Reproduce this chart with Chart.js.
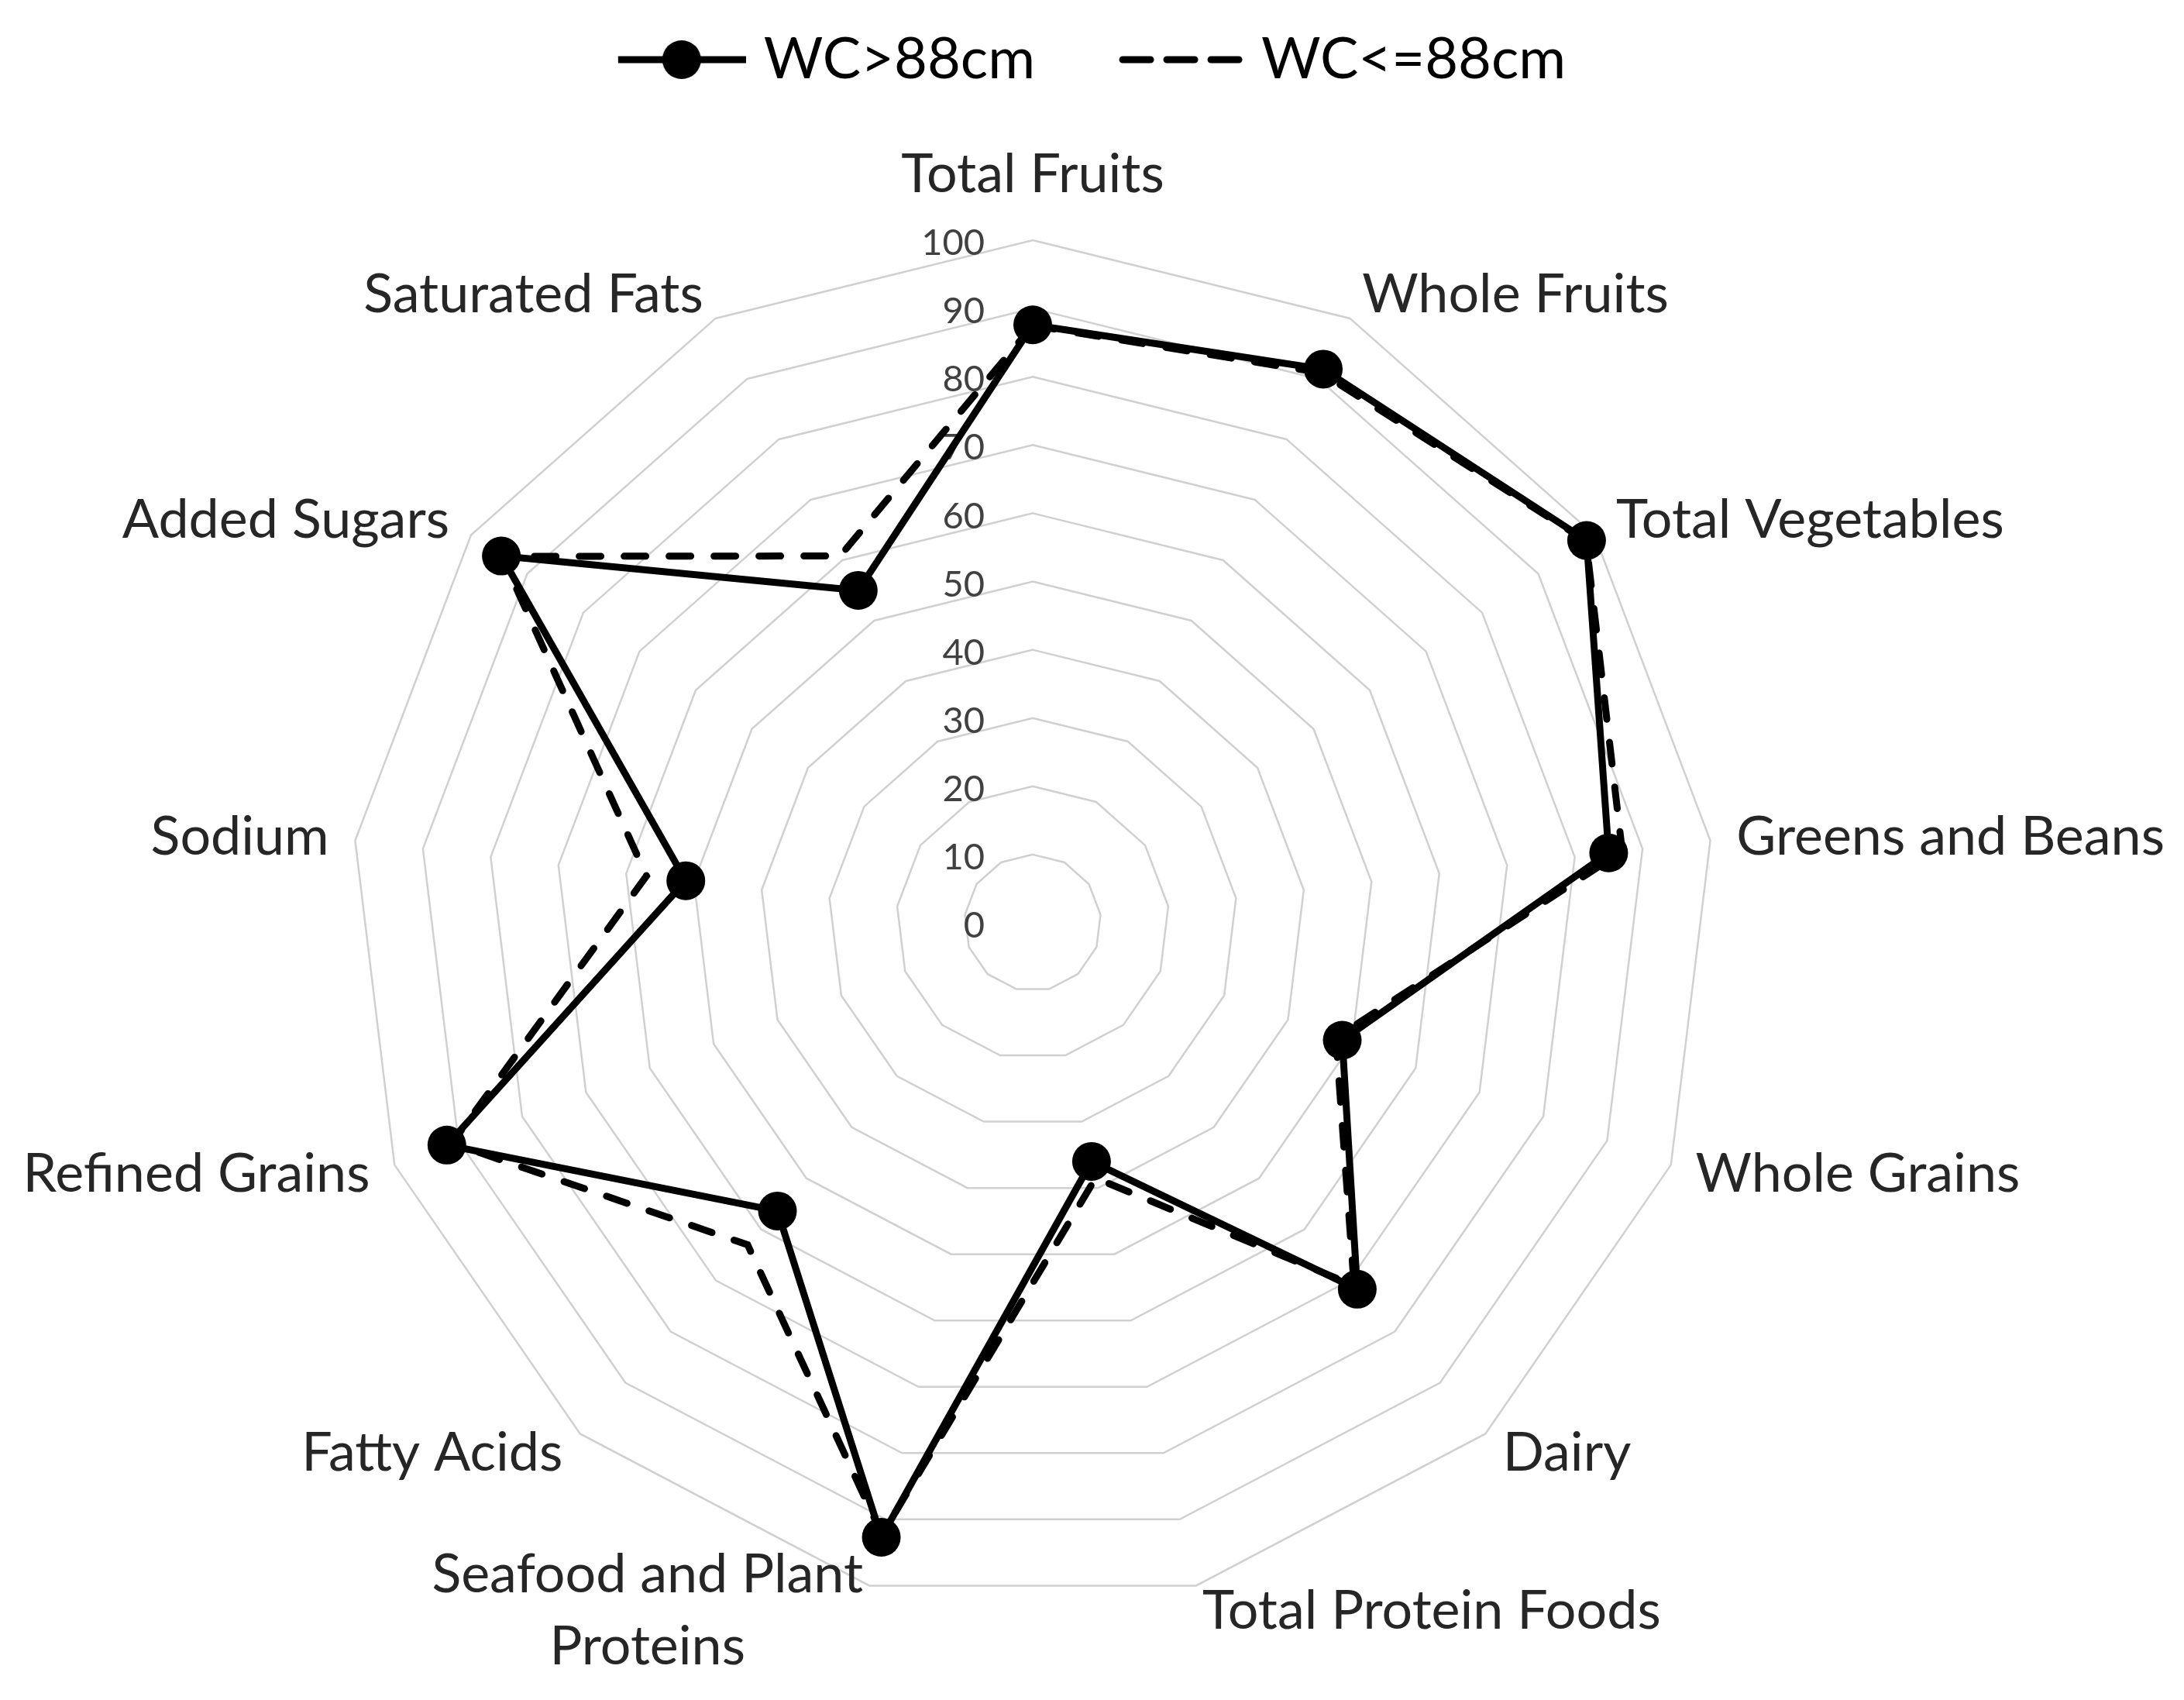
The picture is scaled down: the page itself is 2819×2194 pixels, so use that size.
<!DOCTYPE html>
<html>
<head>
<meta charset="utf-8">
<script src="https://cdn.jsdelivr.net/npm/chart.js@4.4.1/dist/chart.umd.min.js"></script>
<style>
  html, body { margin: 0; padding: 0; background: #fff; }
  #wrap { width: 2819px; height: 2194px; }
</style>
</head>
<body>
<div id="wrap"><canvas id="radarChart" width="2819" height="2194"></canvas></div>
<script>
// categories, clockwise from the top
const categories = [
  'Total Fruits', 'Whole Fruits', 'Total Vegetables', 'Greens and Beans',
  'Whole Grains', 'Dairy', 'Total Protein Foods', ['Seafood and Plant', 'Proteins'],
  'Fatty Acids', 'Refined Grains', 'Sodium', 'Added Sugars', 'Saturated Fats'
];
const wcOver88 = [87.6, 91.6, 98.6, 85.0, 48.5, 71.7, 36.0, 92.7, 56.4, 91.8, 51.2, 94.6, 55.0];
const wcUnder88 = [87.5, 91.0, 98.5, 87.0, 47.5, 71.0, 38.5, 92.3, 63.0, 91.0, 57.0, 94.5, 60.7];
const tickValues = [0, 10, 20, 30, 40, 50, 60, 70, 80, 90, 100];

const FONT = 'Lato, "Open Sans", sans-serif';

// legend symbols: a line with a marker, and a dashed line
// (canvas is a bit wider than the legend box so the symbol sits closer to its text)
function makeSymbol(dashed) {
  const c = document.createElement('canvas');
  c.width = 179; c.height = 60;
  const g = c.getContext('2d');
  g.strokeStyle = '#000';
  g.fillStyle = '#000';
  g.lineWidth = 9;
  if (dashed) {
    g.lineCap = 'round';
    g.setLineDash([36, 21]);
    g.beginPath(); g.moveTo(23, 30); g.lineTo(178, 30); g.stroke();
  } else {
    g.beginPath(); g.moveTo(14, 30); g.lineTo(179, 30); g.stroke();
    g.beginPath(); g.arc(96, 30, 25, 0, Math.PI * 2); g.fill();
  }
  return c;
}
const legendSymbols = [makeSymbol(false), makeSymbol(true)];

// tick numbers sit left of the vertical axis, under the lines
const tickLabelPlugin = {
  id: 'tickLabels',
  beforeDatasetsDraw(chart) {
    const scale = chart.scales.r;
    const ctx = chart.ctx;
    ctx.save();
    ctx.font = '47px ' + FONT;
    ctx.fillStyle = '#404040';
    ctx.textAlign = 'right';
    ctx.textBaseline = 'middle';
    tickValues.forEach(v => {
      const d = scale.getDistanceFromCenterForValue(v);
      ctx.fillText(String(v), scale.xCenter - 62, scale.yCenter - d + 4);
    });
    ctx.restore();
  }
};

// category labels placed just outside the outer ring, like the spreadsheet chart
const categoryLabelPlugin = {
  id: 'categoryLabels',
  afterDraw(chart) {
    const scale = chart.scales.r;
    const ctx = chart.ctx;
    const n = chart.data.labels.length;
    const lineH = 93;
    ctx.save();
    ctx.font = '70px ' + FONT;
    ctx.fillStyle = '#262626';
    ctx.textBaseline = 'middle';
    chart.data.labels.forEach((lbl, i) => {
      const lines = Array.isArray(lbl) ? lbl : [lbl];
      const deg = i * 360 / n;
      if (i === 0) {
        const v = scale.getPointPosition(i, scale.drawingArea);
        ctx.textAlign = 'center';
        ctx.fillText(lines[0], v.x, v.y - 85);
        return;
      }
      const p = scale.getPointPosition(i, scale.drawingArea + 34);
      const blockW = Math.max(...lines.map(t => ctx.measureText(t).width));
      const right = deg > 180;
      const cx = right ? p.x - blockW / 2 : p.x + blockW / 2;
      const y0 = p.y - (lines.length - 1) * lineH / 2;
      ctx.textAlign = 'center';
      lines.forEach((t, k) => ctx.fillText(t, cx, y0 + k * lineH));
    });
    ctx.restore();
  }
};

new Chart(document.getElementById('radarChart'), {
  type: 'radar',
  data: {
    labels: categories,
    datasets: [
      {
        label: 'WC>88cm',
        data: wcOver88,
        borderColor: '#000',
        borderWidth: 9,
        pointRadius: 25,
        pointBackgroundColor: '#000',
        pointBorderColor: '#000',
        pointBorderWidth: 0,
        fill: false,
        clip: false
      },
      {
        label: 'WC<=88cm',
        data: wcUnder88,
        borderColor: '#000',
        borderWidth: 9,
        borderDash: [28, 30],
        borderCapStyle: 'round',
        pointRadius: 0,
        fill: false,
        clip: false
      }
    ]
  },
  options: {
    responsive: false,
    animation: false,
    layout: { padding: { left: 0, right: 0, top: -64, bottom: 0 } },
    plugins: {
      tooltip: { enabled: false },
      legend: {
        position: 'top',
        labels: {
          usePointStyle: true,
          pointStyleWidth: 151,
          padding: 104,
          color: '#000',
          font: { family: FONT, size: 74 },
          generateLabels(chart) {
            const items = Chart.defaults.plugins.legend.labels.generateLabels(chart);
            items.forEach((it, i) => { it.pointStyle = legendSymbols[i]; });
            return items;
          }
        }
      }
    },
    scales: {
      r: {
        min: 0,
        max: 100,
        ticks: { display: false, stepSize: 10 },
        angleLines: { display: false },
        grid: { color: '#d0d0d0', lineWidth: 2.5, circular: false },
        pointLabels: { display: false },
        afterFit(scale) {
          // plot centre and radius taken from the reference layout
          scale.xCenter = 1333;
          scale.yCenter = 1191;
          scale.drawingArea = 881;
        }
      }
    }
  },
  plugins: [tickLabelPlugin, categoryLabelPlugin]
});
</script>
</body>
</html>
